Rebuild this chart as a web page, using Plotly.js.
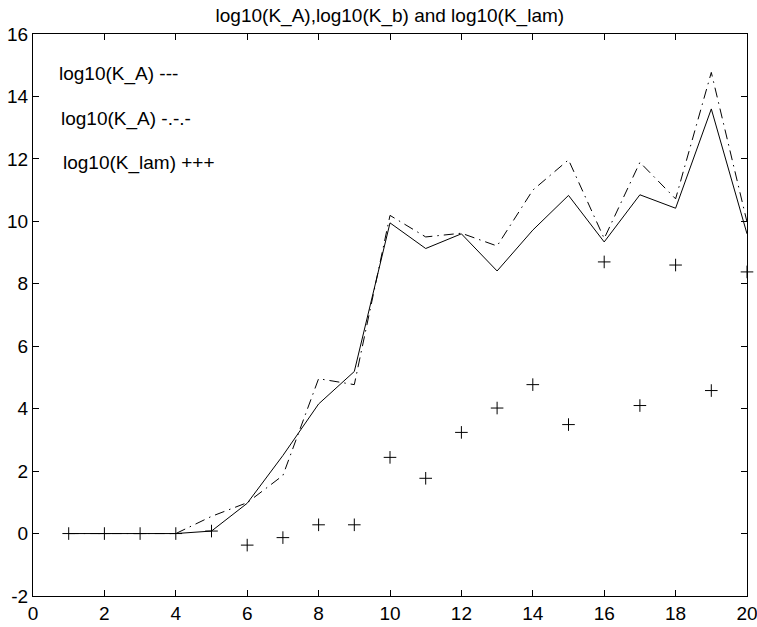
<!DOCTYPE html>
<html>
<head>
<meta charset="utf-8">
<script src="https://cdn.plot.ly/plotly-3.0.1.min.js"></script>
<style>html,body{margin:0;padding:0;background:#fff;}#chart{width:757px;height:627px;}</style>
</head>
<body>
<div id="chart"></div>
<script>
const xValues = [1,2,3,4,5,6,7,8,9,10,11,12,13,14,15,16,17,18,19,20];
const logKA = [0,0,0,0,0.08,0.97,2.5,4.15,5.19,9.95,9.13,9.6,8.41,9.72,10.83,9.34,10.85,10.42,13.6,9.6];
const logKb = [0,0,0,0,0.55,0.99,1.86,4.96,4.77,10.19,9.5,9.62,9.21,11.0,11.97,9.45,11.89,10.72,14.77,9.98];
const logKlam = [0,0,0,0,0.08,-0.37,-0.13,0.28,0.28,2.44,1.77,3.24,4.02,4.77,3.49,8.7,4.1,8.6,4.58,8.38];
const xTicks = [0,2,4,6,8,10,12,14,16,18,20];
const yTicks = [-2,0,2,4,6,8,10,12,14,16];
const yTickText = ["-2","0","2","4","6","8","10","12","14","16"];
const titleText = "log10(K_A),log10(K_b) and log10(K_lam)";
const legendLabels = ["log10(K_A) ---","log10(K_A) -.-.-","log10(K_lam) +++"];

const font = "Liberation Sans, Arial, sans-serif";
const traces = [
  {x: xValues, y: logKA, mode: "lines", line: {color: "#000", width: 1}, showlegend: false},
  {x: xValues, y: logKb, mode: "lines", line: {color: "#000", width: 1, dash: "10px,5px,1.5px,5px"}, showlegend: false},
  {x: xValues, y: logKlam, mode: "markers", marker: {symbol: "cross-thin-open", size: 9, color: "#000", line: {color: "#000", width: 1}}, showlegend: false, cliponaxis: false}
];
const axisCommon = {
  showgrid: false, zeroline: false, showline: true, linecolor: "#000", linewidth: 1,
  mirror: "ticks", ticks: "inside", ticklen: 6, tickcolor: "#000", tickwidth: 1,
  ticklabeloverflow: "allow",
  tickfont: {family: font, size: 19, color: "#000"}
};
const layout = {
  width: 757, height: 627,
  margin: {l: 33, r: 10, t: 34, b: 31},
  paper_bgcolor: "#fff", plot_bgcolor: "#fff",
  title: {text: titleText, font: {family: font, size: 19, color: "#000"}, x: 0.515, xanchor: "center", y: 1 - 15/627, yanchor: "middle", yref: "container"},
  xaxis: Object.assign({}, axisCommon, {range: [0, 20], tickvals: xTicks, ticktext: xTicks.map(String)}),
  yaxis: Object.assign({}, axisCommon, {range: [-2, 16], tickvals: yTicks, ticktext: yTickText}),
  annotations: [
    {x: 0.67, y: 14.72, text: legendLabels[0]},
    {x: 0.73, y: 13.29, text: legendLabels[1]},
    {x: 0.78, y: 11.88, text: legendLabels[2]}
  ].map(a => Object.assign(a, {xref: "x", yref: "y", xanchor: "left", yanchor: "middle", showarrow: false, font: {family: font, size: 19, color: "#000"}})),
  showlegend: false
};
Plotly.newPlot("chart", traces, layout, {displayModeBar: false, staticPlot: true});
</script>
</body>
</html>
